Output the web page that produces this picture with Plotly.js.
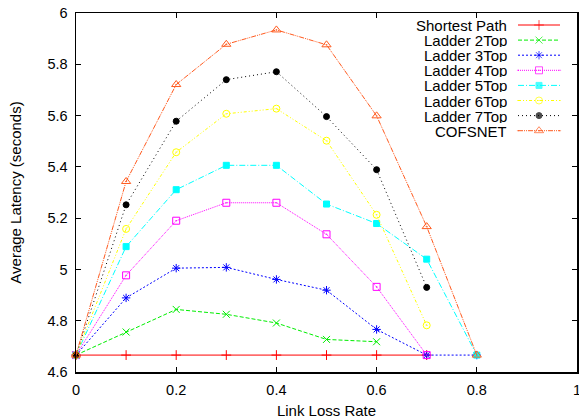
<!DOCTYPE html>
<html>
<head>
<meta charset="utf-8">
<script src="https://cdn.plot.ly/plotly-3.0.1.min.js"></script>
<style>html,body{margin:0;padding:0;background:#fff;}#chart{width:579px;height:420px;}</style>
</head>
<body>
<div id="chart"></div>
<script>
// ---- data ----
const lossRate = [0, 0.1, 0.2, 0.3, 0.4, 0.5, 0.6, 0.7, 0.8];
const seriesNames = ["Shortest Path", "Ladder 2Top", "Ladder 3Top", "Ladder 4Top", "Ladder 5Top", "Ladder 6Top", "Ladder 7Top", "COFSNET"];
const shortestPath = [4.666, 4.666, 4.666, 4.666, 4.666, 4.666, 4.666, 4.666];
const ladder2Top = [4.666, 4.756, 4.844, 4.825, 4.791, 4.727, 4.718];
const ladder3Top = [4.666, 4.889, 5.005, 5.008, 4.961, 4.919, 4.766, 4.666, 4.666];
const ladder4Top = [4.666, 4.977, 5.190, 5.260, 5.260, 5.137, 4.932, 4.666];
const ladder5Top = [4.666, 5.089, 5.311, 5.406, 5.406, 5.255, 5.179, 5.040, 4.666];
const ladder6Top = [4.666, 5.158, 5.457, 5.607, 5.627, 5.502, 5.213, 4.782];
const ladder7Top = [4.666, 5.252, 5.578, 5.740, 5.771, 5.596, 5.389, 4.930];
const cofsnet = [4.666, 5.343, 5.721, 5.878, 5.934, 5.876, 5.599, 5.167, 4.666];
const xTickVals = [0, 0.2, 0.4, 0.6, 0.8, 1];
const yTickVals = [4.6, 4.8, 5, 5.2, 5.4, 5.6, 5.8, 6];

// ---- styles ----
const allSeries = [shortestPath, ladder2Top, ladder3Top, ladder4Top, ladder5Top, ladder6Top, ladder7Top, cofsnet];
const styles = [
  {color: "#ff0000", dash: "solid", symbol: "cross-thin-open", size: 7},
  {color: "#00ee00", dash: "4px,2px", symbol: "x-thin-open", size: 7},
  {color: "#0000ff", dash: "2px,2px", symbol: "asterisk-open", size: 7},
  {color: "#ff00ff", dash: "1px,1px", symbol: "square-open-dot", size: 7},
  {color: "#00ffff", dash: "6px,2px,1px,2px", symbol: "square", size: 6},
  {color: "#ffff00", dash: "3px,2px,1px,2px,1px,2px", symbol: "circle-open-dot", size: 7},
  {color: "#000000", dash: "1px,3px", symbol: "circle", size: 6},
  {color: "#ff5a1e", dash: "5px,1px,1px,1px,1px,1px", symbol: "triangle-up-open-dot", size: 8}
];

const font = "Liberation Sans, Arial, Helvetica, sans-serif";
const traces = [];
allSeries.forEach((vals, i) => {
  const s = styles[i];
  traces.push({
    type: "scatter", mode: "lines+markers", name: seriesNames[i],
    x: lossRate.slice(0, vals.length), y: vals,
    line: {color: s.color, width: 1, dash: s.dash},
    marker: {symbol: s.symbol, size: s.size, color: s.color, line: {color: s.color, width: 1}},
    showlegend: false, cliponaxis: false
  });
});

// ---- custom gnuplot-style legend (text right, sample left->right) ----
const plotTop = 13, plotH = 359, plotL = 76, plotW = 501;
const toPX = px => (px - plotL) / plotW;
const toPY = py => 1 - (py - plotTop) / plotH;
const legTextX = toPX(508), legL = toPX(518), legM = toPX(539), legR = toPX(560);
const annotations = [];
seriesNames.forEach((name, i) => {
  const py = toPY(25 + i * 15.1);
  const s = styles[i];
  annotations.push({xref: "paper", yref: "paper", x: legTextX, y: py, xanchor: "right", yanchor: "middle",
    text: name, showarrow: false, borderpad: 0, height: 14, valign: "middle",
    font: {family: font, size: 15, color: "#000"}});
  traces.push({
    type: "scatter", mode: "lines+markers", xaxis: "x2", yaxis: "y2",
    x: [legL, legM, legR], y: [py, py, py], showlegend: false, hoverinfo: "skip",
    line: {color: s.color, width: 1, dash: s.dash},
    marker: {symbol: s.symbol, size: [0, s.size, 0], color: s.color, line: {color: s.color, width: 1}},
    cliponaxis: false
  });
});

const layout = {
  width: 579, height: 420,
  margin: {l: plotL, r: 579 - plotL - plotW, t: plotTop, b: 420 - plotTop - plotH},
  paper_bgcolor: "#fff", plot_bgcolor: "#fff",
  font: {family: font, size: 14.5, color: "#000"},
  showlegend: false,
  xaxis: {
    range: [0, 1], tickvals: xTickVals, ticks: "inside", ticklen: 5, tickwidth: 1, tickcolor: "#000",
    showline: true, linecolor: "#000", linewidth: 1.5, mirror: "ticks", showgrid: false, zeroline: false,
    tickfont: {family: font, size: 14.5}, ticklabelstandoff: 4, ticklabeloverflow: "allow",
    title: {text: "Link Loss Rate", font: {family: font, size: 15}, standoff: 8}
  },
  yaxis: {
    range: [4.6, 6], tickvals: yTickVals, ticks: "inside", ticklen: 5, tickwidth: 1, tickcolor: "#000",
    showline: true, linecolor: "#000", linewidth: 1.5, mirror: "ticks", showgrid: false, zeroline: false,
    tickfont: {family: font, size: 14.5}, ticklabelstandoff: 4, ticklabeloverflow: "allow",
    title: {text: "Average Latency (seconds)", font: {family: font, size: 15}, standoff: 22}
  },
  xaxis2: {overlaying: "x", range: [0, 1], visible: false, fixedrange: true},
  yaxis2: {overlaying: "y", range: [0, 1], visible: false, fixedrange: true},
  annotations: annotations
};

Plotly.newPlot("chart", traces, layout, {displayModeBar: false, staticPlot: true});
</script>
</body>
</html>
